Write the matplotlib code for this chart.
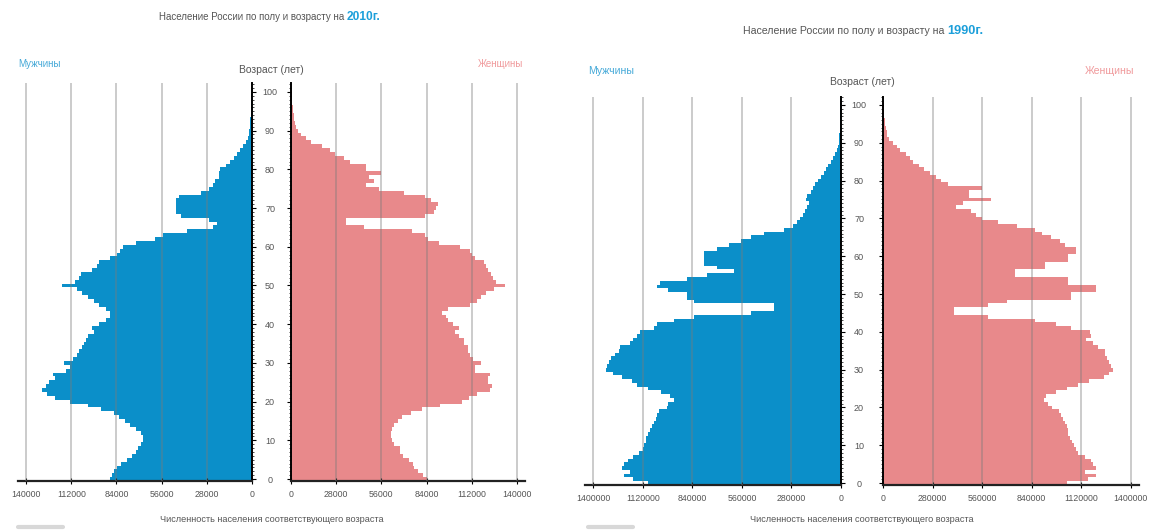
import numpy as np
import matplotlib
matplotlib.use("Agg")
import matplotlib.pyplot as plt
from matplotlib.ticker import MultipleLocator, FixedLocator

plt.rcParams['font.family'] = ['Liberation Sans Narrow', 'Liberation Sans', 'DejaVu Sans']

W, H = 1150, 532

ages = np.arange(0, 101)

# 2010 (units as on the left chart's axis)
male_2010 = [87900, 86800, 85600, 83400, 81100, 77600, 74200, 71900, 70800, 68500,
             67400, 67400, 68500, 71900, 75400, 78800, 82200, 85600, 93600, 101600,
             113000, 122200, 126800, 130200, 127900, 125600, 122200, 123300, 115300, 113000,
             116500, 110800, 108500, 107300, 105100, 103900, 102800, 101600, 98200, 99400,
             94800, 90200, 87900, 87900, 90200, 94800, 98200, 101600, 105100, 108500,
             117600, 109600, 107300, 106200, 99400, 96000, 94800, 87900, 83400, 81500,
             79900, 72000, 60000, 55000, 40000, 24000, 21600, 26800, 44300, 47400,
             47400, 47400, 47400, 45300, 31900, 26800, 24000, 22700, 20600, 20600,
             19600, 16000, 13700, 11400, 9100, 7500, 5700, 3900, 2300, 2000,
             1800, 1500, 1300, 1100, 900, 800, 700, 600, 500, 400, 300]
female_2010 = [84500, 81500, 78800, 76500, 75400, 73100, 69700, 67400, 67400, 64000,
               62800, 61700, 61700, 62800, 64000, 66000, 68500, 74200, 81100, 92500,
               106200, 110000, 115300, 123300, 124500, 122200, 122200, 123300, 114200, 114200,
               117600, 113000, 110800, 109600, 109600, 107300, 107300, 103900, 101600, 103900,
               100500, 97500, 95900, 93600, 97100, 110800, 115300, 117600, 121000, 125600,
               132500, 126800, 125000, 124000, 122200, 121000, 119900, 114200, 112000, 110800,
               105000, 92000, 85000, 83000, 75000, 45000, 34300, 34300, 82800, 88900,
               90000, 90900, 86900, 82800, 70000, 54500, 46500, 51500, 48500, 55600,
               46500, 46500, 36400, 33000, 27400, 24000, 19400, 12500, 9000, 6500,
               4500, 3400, 2600, 2000, 1600, 1300, 1000, 800, 600, 500, 400]
ticks_2010 = [0, 28000, 56000, 84000, 112000, 140000]

# 1990 (units as on the right chart's axis)
male_1990 = [1091000, 1175000, 1227000, 1196000, 1237000, 1227000, 1206000, 1175000, 1143000, 1122000,
             1112000, 1101000, 1101000, 1091000, 1081000, 1070000, 1060000, 1049000, 1039000, 1028000,
             986000, 976000, 945000, 966000, 1018000, 1091000, 1154000, 1180000, 1240000, 1290000,
             1331000, 1321000, 1310000, 1300000, 1279000, 1258000, 1248000, 1195000, 1175000, 1154000,
             1135000, 1060000, 1040000, 946000, 832000, 511000, 378000, 378000, 832000, 870000,
             870000, 980000, 1041000, 1022000, 870000, 757000, 605000, 700000, 776000, 776000,
             776000, 776000, 700000, 634000, 568000, 511000, 435000, 322000, 270000, 250000,
             230000, 213000, 203000, 192000, 182000, 196000, 192000, 171000, 161000, 145000,
             130000, 113000, 96000, 84000, 71000, 56000, 46000, 36000, 25000, 17000,
             12500, 10000, 9000, 8000, 7000, 6000, 5000, 4500, 4000, 3500, 3000]
female_1990 = [1039000, 1160000, 1206000, 1143000, 1206000, 1185000, 1175000, 1143000, 1101000, 1091000,
               1081000, 1070000, 1060000, 1049000, 1044000, 1039000, 1028000, 1018000, 1007000, 997000,
               955000, 934000, 913000, 924000, 976000, 1039000, 1101000, 1164000, 1248000, 1279000,
               1300000, 1290000, 1279000, 1269000, 1258000, 1258000, 1216000, 1185000, 1150000, 1179000,
               1170000, 1065000, 980000, 857000, 592000, 403000, 403000, 592000, 700000, 1065000,
               1065000, 1207000, 1207000, 1046000, 1046000, 744000, 744000, 914000, 914000, 1046000,
               1046000, 1090000, 1090000, 1027000, 1000000, 952000, 900000, 857000, 760000, 650000,
               560000, 527000, 495000, 412000, 450000, 610000, 485000, 485000, 558000, 370000,
               328000, 297000, 265000, 234000, 203000, 171000, 150000, 130000, 98000, 77000,
               56000, 36000, 25000, 20000, 15000, 12000, 10000, 8000, 6000, 5000, 4000]
ticks_1990 = [0, 280000, 560000, 840000, 1120000, 1400000]

male_color = '#0b8fc9'
female_color = '#e8898b'
text_grey = '#555555'


def rect(x0, y_top, x1, y_bot):
    return [x0 / W, 1 - y_bot / H, (x1 - x0) / W, (y_bot - y_top) / H]


def pyramid(fig, male_px, female_px, y_top, y_bot, ytop_val, male, female, ticks, xmax,
            title_x, title_y, year, fs, label_y, age_lbl_y, sex_y, male_lbl_x, female_lbl_x, bottom_x):
    axm = fig.add_axes(rect(male_px[0], y_top, male_px[1], y_bot))
    axf = fig.add_axes(rect(female_px[0], y_top, female_px[1], y_bot))

    axm.barh(ages, male, height=1.0, color=male_color, linewidth=0)
    axf.barh(ages, female, height=1.0, color=female_color, linewidth=0)

    for ax in (axm, axf):
        ax.set_ylim(-0.5, ytop_val)
        ax.set_xlim(0, xmax)
        ax.set_facecolor('none')
        for t in ticks[1:]:
            ax.axvline(t, color='#7a7a7a', alpha=0.42, linewidth=1.3, zorder=3)
        ax.spines['top'].set_visible(False)
        ax.spines['bottom'].set_linewidth(1.6)
        ax.spines['bottom'].set_color('#222222')
        ax.xaxis.set_major_locator(FixedLocator(ticks))
        ax.set_xticklabels([str(t) for t in ticks])
        ax.tick_params(axis='x', direction='inout', length=5, width=0.8,
                       labelsize=6.3, labelcolor=text_grey, pad=4)
        ax.yaxis.set_major_locator(MultipleLocator(10))
        ax.yaxis.set_minor_locator(MultipleLocator(1))

    axm.invert_xaxis()
    axm.spines['left'].set_visible(False)
    axm.spines['right'].set_linewidth(1.4)
    axm.yaxis.tick_right()
    axm.tick_params(axis='y', which='major', length=3, width=0.8, labelsize=6.5,
                    labelcolor=text_grey, pad=10)
    axm.tick_params(axis='y', which='minor', length=1.5, width=0.5)
    for lbl in axm.get_yticklabels():
        lbl.set_horizontalalignment('center')

    axf.spines['right'].set_visible(False)
    axf.spines['left'].set_linewidth(1.4)
    axf.tick_params(axis='y', which='major', length=3, width=0.8, labelleft=False)
    axf.tick_params(axis='y', which='minor', length=1.5, width=0.5)

    mid = (male_px[1] + female_px[0]) / 2
    fig.text(title_x / W, 1 - title_y / H, 'Население России по полу и возрасту на ',
             ha='right', va='center', fontsize=fs, color=text_grey)
    fig.text(title_x / W, 1 - title_y / H, year, ha='left', va='center',
             fontsize=fs + 1.6, fontweight='bold', color='#1c9fda')
    fig.text(male_lbl_x / W, 1 - sex_y / H, 'Мужчины', ha='left', va='center',
             fontsize=fs, color='#45a9d8')
    fig.text(female_lbl_x / W, 1 - sex_y / H, 'Женщины', ha='right', va='center',
             fontsize=fs, color='#f09a9c')
    fig.text(mid / W, 1 - age_lbl_y / H, 'Возраст (лет)', ha='center', va='center',
             fontsize=7.5, color=text_grey)
    fig.text(mid / W, 1 - label_y / H, 'Численность населения соответствующего возраста',
             ha='center', va='center', fontsize=6.6, color=text_grey)
    fig.add_artist(plt.Line2D([bottom_x / W, (bottom_x + 45) / W], [1 - 527 / H] * 2,
                              color='#d8d8d8', linewidth=3, solid_capstyle='round'))


fig = plt.figure(figsize=(W / 100, H / 100), dpi=100)
fig.patch.set_facecolor('white')

pyramid(fig, (18, 252), (291, 525), 83, 481, 102.3, male_2010, female_2010, ticks_2010, 145000,
        347, 17, '2010г.', 7, 519, 70, 64, 18, 523, 18)
pyramid(fig, (585, 841), (883, 1139), 97, 485, 102.1, male_1990, female_1990, ticks_1990, 1448000,
        947, 31, '1990г.', 7.6, 520, 82, 71, 588, 1134, 588)

fig.savefig('out.png', dpi=100)
